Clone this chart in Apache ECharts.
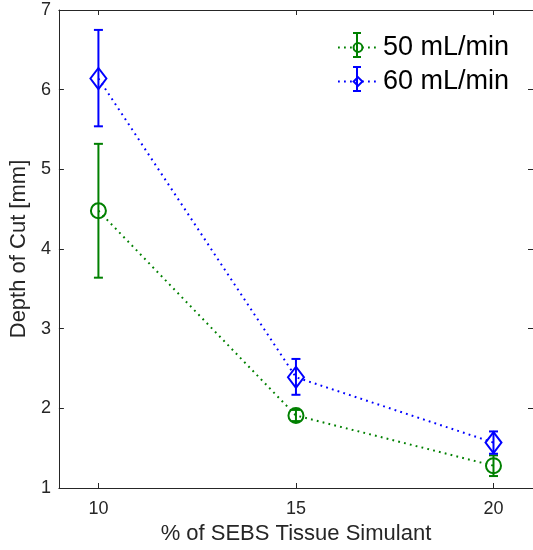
<!DOCTYPE html>
<html>
<head>
<meta charset="utf-8">
<script src="https://cdn.jsdelivr.net/npm/echarts@6/dist/echarts.min.js"></script>
<style>
  html, body { margin: 0; padding: 0; background: #fff; }
  #graph { width: 533px; height: 550px; }
</style>
</head>
<body>
<div id="graph"></div>
<script>
// % of SEBS tissue simulant
const pct = [10, 15, 20];
// 50 mL/min
const mean50 = [4.48, 1.91, 1.28];
const low50 = [3.64, 1.84, 1.15];
const high50 = [5.32, 1.98, 1.41];
// 60 mL/min
const mean60 = [6.14, 2.39, 1.57];
const low60 = [5.54, 2.17, 1.43];
const high60 = [6.75, 2.62, 1.71];

const xTicks = [10, 15, 20];
const names = ['50 mL/min', '60 mL/min'];

const green = '#008000';
const blue = '#0000ff';
const font = 'Liberation Sans, Arial, sans-serif';

const errData = (lo, hi) => pct.map((x, i) => [x, lo[i], hi[i]]);

function errRender(color) {
  return function (params, api) {
    const x = api.value(0);
    const lo = api.coord([x, api.value(1)]);
    const hi = api.coord([x, api.value(2)]);
    const cap = 4.5;
    const style = { stroke: color, lineWidth: 2 };
    return {
      type: 'group',
      children: [
        { type: 'line', shape: { x1: lo[0], y1: lo[1], x2: hi[0], y2: hi[1] }, style },
        { type: 'line', shape: { x1: lo[0] - cap, y1: lo[1], x2: lo[0] + cap, y2: lo[1] }, style },
        { type: 'line', shape: { x1: hi[0] - cap, y1: hi[1], x2: hi[0] + cap, y2: hi[1] }, style }
      ]
    };
  };
}

// small error bar drawn over a legend icon
function legendBar(cx, cy, color) {
  const h = 12, cap = 4;
  const style = { stroke: color, lineWidth: 2 };
  return {
    type: 'group', z: 100, silent: true,
    children: [
      { type: 'line', shape: { x1: cx, y1: cy - h, x2: cx, y2: cy + h }, style },
      { type: 'line', shape: { x1: cx - cap, y1: cy - h, x2: cx + cap, y2: cy - h }, style },
      { type: 'line', shape: { x1: cx - cap, y1: cy + h, x2: cx + cap, y2: cy + h }, style }
    ]
  };
}

const chart = echarts.init(document.getElementById('graph'));

const axisLine = { show: true, lineStyle: { color: '#262626', width: 1 } };
const tick = { show: true, inside: true, length: 5, lineStyle: { color: '#262626' } };

chart.setOption({
  animation: false,
  textStyle: { fontFamily: font },
  grid: { left: 58, top: 10, width: 477, height: 478 },
  legend: {
    orient: 'vertical',
    left: 332,
    top: 29,
    itemWidth: 40,
    itemHeight: 11,
    itemGap: 7,
    data: names,
    textStyle: { fontSize: 27, color: '#000', fontFamily: font }
  },
  graphic: [legendBar(357, 45, green), legendBar(357, 79, blue)],
  xAxis: [
    {
      type: 'value', min: 9, max: 21,
      axisLine, axisTick: { ...tick, customValues: xTicks },
      splitLine: { show: false },
      axisLabel: { customValues: xTicks, color: '#262626', fontSize: 18, margin: 12 },
      name: '% of SEBS Tissue Simulant', nameLocation: 'middle', nameGap: 35,
      nameTextStyle: { color: '#262626', fontSize: 22 }
    },
    {
      type: 'value', position: 'top', min: 9, max: 21,
      axisLine, axisTick: { ...tick, customValues: xTicks },
      axisLabel: { show: false, customValues: xTicks }, splitLine: { show: false }
    }
  ],
  yAxis: [
    {
      type: 'value', min: 1, max: 7, interval: 1,
      axisLine, axisTick: tick, splitLine: { show: false },
      axisLabel: { color: '#262626', fontSize: 18, margin: 8 },
      name: 'Depth of Cut [mm]', nameLocation: 'middle', nameGap: 25,
      nameTextStyle: { color: '#262626', fontSize: 22 }
    },
    {
      type: 'value', position: 'right', min: 1, max: 7, interval: 1,
      axisLine, axisTick: tick, splitLine: { show: false },
      axisLabel: { show: false }
    }
  ],
  series: [
    {
      type: 'custom', name: 'err50', renderItem: errRender(green),
      data: errData(low50, high50), z: 2, silent: true
    },
    {
      type: 'custom', name: 'err60', renderItem: errRender(blue),
      data: errData(low60, high60), z: 2, silent: true
    },
    {
      type: 'line', name: names[0],
      data: pct.map((x, i) => [x, mean50[i]]),
      symbol: 'circle', symbolSize: 15,
      lineStyle: { color: green, width: 2, type: [1.8, 4.2] },
      itemStyle: { color: 'rgba(0,0,0,0)', borderColor: green, borderWidth: 2 },
      z: 3
    },
    {
      type: 'line', name: names[1],
      data: pct.map((x, i) => [x, mean60[i]]),
      symbol: 'diamond', symbolSize: [16, 21],
      lineStyle: { color: blue, width: 2, type: [1.8, 4.2] },
      itemStyle: { color: 'rgba(0,0,0,0)', borderColor: blue, borderWidth: 2 },
      z: 3
    }
  ]
});
</script>
</body>
</html>
